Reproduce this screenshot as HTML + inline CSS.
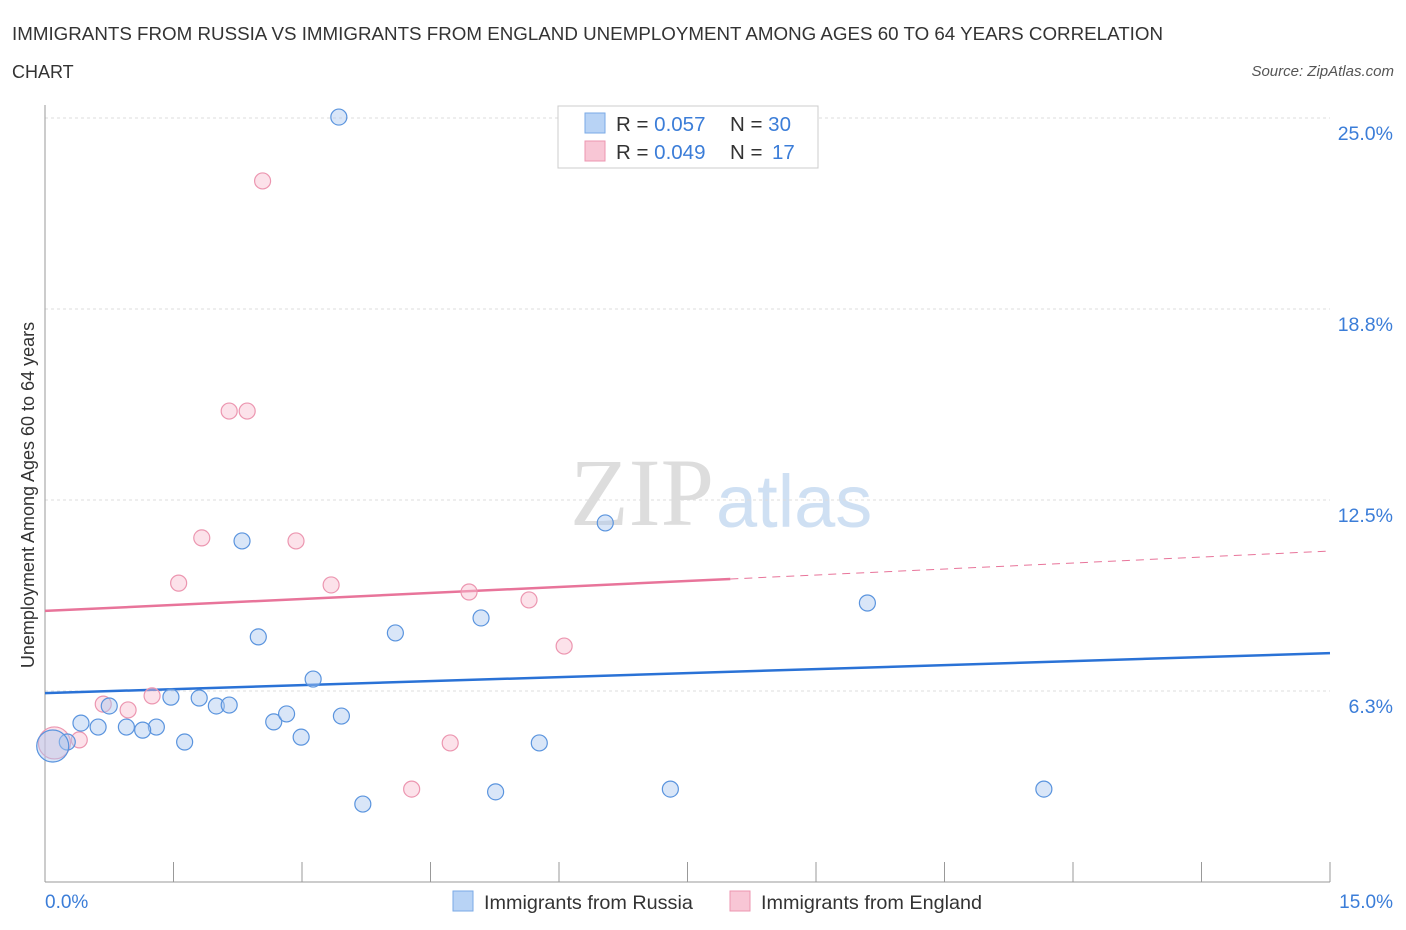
<!DOCTYPE html>
<html><head><meta charset="utf-8"><style>
body{margin:0;background:#fff;font-family:"Liberation Sans",sans-serif;}
svg{display:block}
</style></head><body>
<svg id="chart" width="1406" height="930" xmlns="http://www.w3.org/2000/svg">
<text x="12" y="40" font-size="18" fill="#333" textLength="1151" lengthAdjust="spacingAndGlyphs">IMMIGRANTS FROM RUSSIA VS IMMIGRANTS FROM ENGLAND UNEMPLOYMENT AMONG AGES 60 TO 64 YEARS CORRELATION</text>
<text x="12" y="78" font-size="18" fill="#333">CHART</text>
<text x="1394" y="76" font-size="15" font-style="italic" fill="#555" text-anchor="end">Source: ZipAtlas.com</text>
<text x="714" y="525" font-size="96" font-family="Liberation Serif,serif" fill="#ddd" text-anchor="end">ZIP</text>
<text x="716" y="527" font-size="74" fill="#cfe0f3">atlas</text>
<g id="grid"></g><g id="axes"></g><g id="lines"></g><g id="pts"></g>
<text x="34" y="495" font-size="18" fill="#333" text-anchor="middle" transform="rotate(-90 34 495)">Unemployment Among Ages 60 to 64 years</text>
<text x="45" y="908" font-size="19" fill="#3b7dd8">0.0%</text>
<text x="1393" y="908" font-size="19" fill="#3b7dd8" text-anchor="end">15.0%</text>
<g>
<rect x="558" y="106" width="260" height="62" fill="#fff" stroke="#ccc"/>
<rect x="585" y="113" width="20" height="20" fill="#b8d3f5" stroke="#7aa9e6"/>
<rect x="585" y="141" width="20" height="20" fill="#f8c6d5" stroke="#ec96b0"/>
<text x="616" y="131" font-size="20.5" fill="#333">R = <tspan fill="#3b7dd8">0.057</tspan><tspan x="730">N = </tspan><tspan fill="#3b7dd8">30</tspan></text>
<text x="616" y="159" font-size="20.5" fill="#333">R = <tspan fill="#3b7dd8">0.049</tspan><tspan x="730">N = </tspan><tspan fill="#3b7dd8" x="772">17</tspan></text>
</g>
<g>
<rect x="453" y="891" width="20" height="20" fill="#b8d3f5" stroke="#7aa9e6"/>
<text x="484" y="909" font-size="19.8" fill="#333">Immigrants from Russia</text>
<rect x="730" y="891" width="20" height="20" fill="#f8c6d5" stroke="#ec96b0"/>
<text x="761" y="909" font-size="19.8" fill="#333">Immigrants from England</text>
</g>
</svg>
<script>
const yTicks=[6.25,12.5,18.75,25];
const yTickLabels=["6.3%","12.5%","18.8%","25.0%"];
const xTicks=[0,1.5,3,4.5,6,7.5,9,10.5,12,13.5,15];
const russiaX=[3.43,2.30,6.54,9.60,2.49,4.09,5.09,3.13,1.47,1.80,0.75,2.00,2.15,0.42,0.62,0.95,1.30,1.14,2.67,2.82,3.46,2.99,1.63,0.26,5.77,3.71,5.26,7.30,11.66,0.09];
const russiaY=[25.03,11.16,11.75,9.13,8.02,8.15,8.64,6.64,6.05,6.02,5.76,5.76,5.79,5.20,5.07,5.07,5.07,4.97,5.24,5.50,5.43,4.74,4.58,4.58,4.55,2.55,2.95,3.04,3.04,4.45];
const russiaBig=[29];
const englandX=[2.54,2.15,2.36,1.83,2.93,1.56,3.34,4.95,5.65,6.06,1.25,0.68,0.97,0.40,4.73,4.28,0.11];
const englandY=[22.94,15.41,15.41,11.26,11.16,9.78,9.72,9.49,9.23,7.72,6.09,5.82,5.63,4.65,4.55,3.04,4.55];
const englandBig=[16];
const russiaTrend=[6.18,7.49];
const englandTrend=[8.87,10.83];
const englandSolidEnd=8.0;
const X=v=>45+v/15*1285, Y=v=>882-v/25*764;
const NS="http://www.w3.org/2000/svg";
function mk(p,t,a){const e=document.createElementNS(NS,t);for(const k in a)e.setAttribute(k,a[k]);p.appendChild(e);return e;}
const grid=document.getElementById('grid'),axes=document.getElementById('axes'),lines=document.getElementById('lines'),pts=document.getElementById('pts');
yTicks.forEach((t,i)=>{
 const l=mk(grid,'line',{x1:45,x2:1330,y1:Y(t),y2:Y(t),stroke:'#ddd','stroke-dasharray':'3,3'});
 
 
 const tx=mk(grid,'text',{x:1393,y:Y(t)+22,'font-size':19.5,fill:'#3b7dd8','text-anchor':'end'});
 tx.textContent=yTickLabels[i];
 
 
});
let a=mk(axes,'line',{x1:45,x2:45,y1:105,y2:882,stroke:'#999'});


a=mk(axes,'line',{x1:45,x2:1330,y1:882,y2:882,stroke:'#999'});


xTicks.forEach(t=>{
 const l=mk(axes,'line',{x1:X(t),x2:X(t),y1:862,y2:882,stroke:'#999'});
 
 
});
function trend(tr,col,name,solidEnd){
 const f=x=>tr[0]+(tr[1]-tr[0])*x/15;
 if(solidEnd==null){
  const l=mk(lines,'line',{x1:X(0),y1:Y(f(0)),x2:X(15),y2:Y(f(15)),stroke:col,'stroke-width':2.5});
  
  
 } else {
  const l=mk(lines,'line',{x1:X(0),y1:Y(f(0)),x2:X(solidEnd),y2:Y(f(solidEnd)),stroke:col,'stroke-width':2.5});
  
  
  const d=mk(lines,'line',{x1:X(solidEnd),y1:Y(f(solidEnd)),x2:X(15),y2:Y(f(15)),stroke:col,'stroke-width':1,'stroke-dasharray':'8,6'});
  
  
 }
}
function points(xs,ys,big,fill,stroke,name){
 xs.forEach((x,i)=>{
  const c=mk(pts,'circle',{cx:X(x),cy:Y(ys[i]),r:big.includes(i)?16:8,fill:fill,stroke:stroke,'stroke-width':1.2});
  
  
 });
}
points(englandX,englandY,englandBig,'rgba(248,190,208,0.45)','#ec96b0','england-point');
points(russiaX,russiaY,russiaBig,'rgba(170,200,240,0.45)','#5a94de','russia-point');
trend(englandTrend,'#e8749a','england-trend-line',englandSolidEnd);
trend(russiaTrend,'#2a72d6','russia-trend-line',null);
</script>
</body></html>
